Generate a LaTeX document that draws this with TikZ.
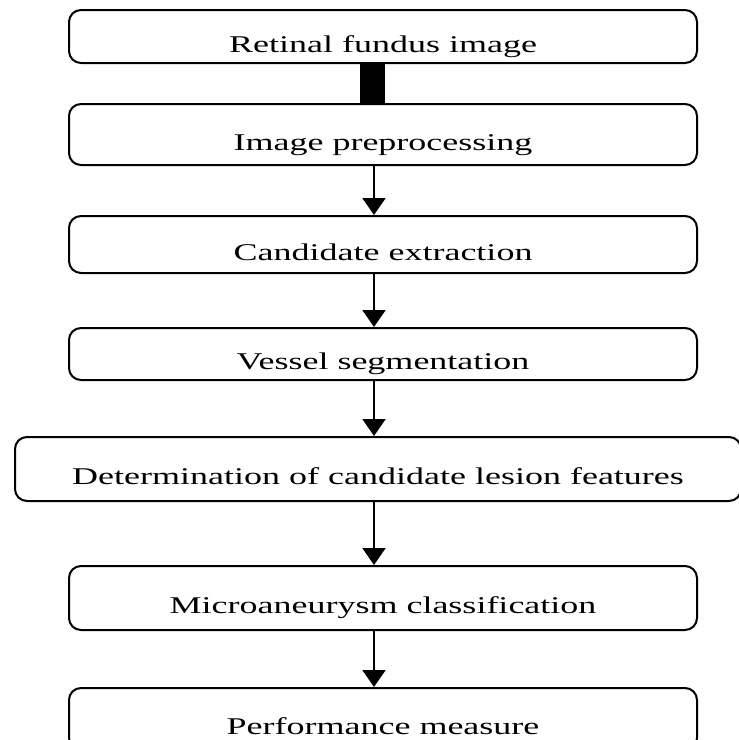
\documentclass[tikz,border=0pt]{standalone}
\usepackage{fontspec}
\setmainfont[FakeStretch=1.5]{Liberation Serif}
\usetikzlibrary{arrows.meta}

\begin{document}
\begin{tikzpicture}[x=1pt,y=-1pt,
  box/.style={draw, line width=2, rounded corners=12, minimum width=628, inner sep=0,
    text height=37, text depth=6, font=\fontsize{24}{28}\selectfont},
  flow/.style={line width=2, -{Triangle[width=23,length=17]}},
  bar/.style={line width=25}]
  \useasboundingbox (0,0) rectangle (739,740);

  \node[box, minimum height=53] (fundus) at (383,36.5) {Retinal fundus image};
  \node[box, minimum height=61] (prep) at (383,134.5) {Image preprocessing};
  \node[box, minimum height=57] (cand) at (383,244.5) {Candidate extraction};
  \node[box, minimum height=52] (vessel) at (383,354) {Vessel segmentation};
  \node[box, minimum height=64, minimum width=726] (feat) at (378,469) {Determination of candidate lesion features};
  \node[box, minimum height=64] (classif) at (383,598) {Microaneurysm classification};
  \node[box, minimum height=62] (perf) at (383,719) {Performance measure};

  \coordinate (bx) at (372.5,0);
  \coordinate (ax) at (374,0);

  \draw[bar] (fundus.south -| bx) -- (prep.north -| bx);
  \draw[flow] (prep.south -| ax) -- (cand.north -| ax);
  \draw[flow] (cand.south -| ax) -- (vessel.north -| ax);
  \draw[flow] (vessel.south -| ax) -- (feat.north -| ax);
  \draw[flow] (feat.south -| ax) -- (classif.north -| ax);
  \draw[flow] (classif.south -| ax) -- (perf.north -| ax);
\end{tikzpicture}
\end{document}
